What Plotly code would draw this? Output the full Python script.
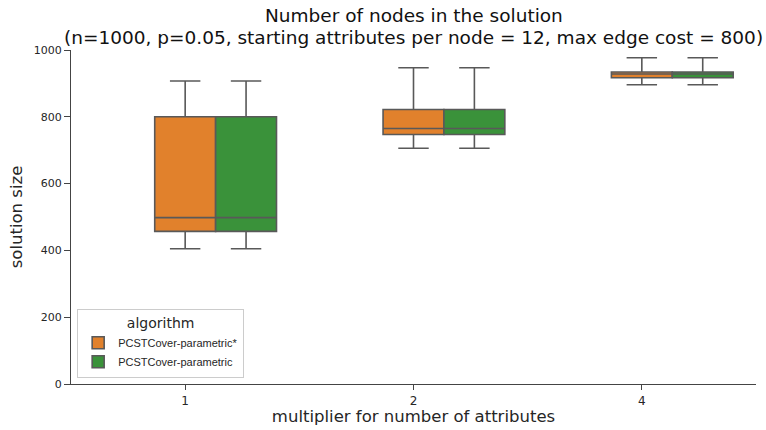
import plotly.graph_objects as go

categories = ["1", "2", "4"]
series_names = ["PCSTCover-parametric*", "PCSTCover-parametric"]
colors = ["#e1812c", "#3a923a"]

# box statistics per category (same for both algorithms)
lower = [[405, 706, 896], [405, 706, 896]]
q1 = [[457, 747, 917], [457, 747, 917]]
median = [[498, 765, 928], [498, 765, 928]]
q3 = [[800, 822, 934], [800, 822, 934]]
upper = [[907, 947, 977], [907, 947, 977]]

y_ticks = [0, 200, 400, 600, 800, 1000]
title_lines = [
    "Number of nodes in the solution",
    "(n=1000, p=0.05, starting attributes per node = 12, max edge cost = 800)",
]

box_w = 0.8 / 3
offsets = [0.0, box_w]

fig = go.Figure()
for s, name in enumerate(series_names):
    xs = [i + offsets[s] for i in range(len(categories))]
    fig.add_trace(go.Box(
        name=name,
        x=xs,
        q1=q1[s], median=median[s], q3=q3[s],
        lowerfence=lower[s], upperfence=upper[s],
        width=box_w,
        fillcolor=colors[s],
        line=dict(color="#595959", width=1.6),
        whiskerwidth=0.5,
        boxpoints=False,
        hoverinfo="skip",
    ))

font = "DejaVu Sans"
for k, (txt, yy) in enumerate(zip(title_lines, [1.103, 1.037])):
    fig.add_annotation(
        text=txt, xref="paper", yref="paper", x=0.5, y=yy,
        xanchor="center", yanchor="middle", showarrow=False,
        font=dict(size=18.5, family=font, color="#111111"),
    )

fig.update_layout(
    width=766, height=430,
    margin=dict(l=71, r=10, t=50, b=46),
    paper_bgcolor="white", plot_bgcolor="white",
    font=dict(family=font, color="#262626"),
    showlegend=True,
    legend=dict(
        title=dict(text="algorithm", font=dict(size=14, family=font), side="top center"),
        x=0.009, y=0.018, xanchor="left", yanchor="bottom",
        bordercolor="#cccccc", borderwidth=1, bgcolor="rgba(255,255,255,0.8)",
        font=dict(size=11, family="Liberation Sans"),
        tracegroupgap=4,
    ),
    xaxis=dict(
        range=[-0.5, 2.5],
        tickmode="array", tickvals=[0, 1, 2], ticktext=categories,
        showline=True, linecolor="#444444", linewidth=1.2,
        ticks="outside", ticklen=5, tickcolor="#444444",
        showgrid=False, zeroline=False,
        tickfont=dict(size=12),
        title=dict(text="multiplier for number of attributes", font=dict(size=16.5), standoff=2),
    ),
    yaxis=dict(
        range=[0, 1000],
        tickmode="array", tickvals=y_ticks,
        showline=True, linecolor="#444444", linewidth=1.2,
        ticks="outside", ticklen=6, tickcolor="#444444",
        showgrid=False, zeroline=False,
        tickfont=dict(size=11),
        title=dict(text="solution size", font=dict(size=16.5), standoff=6),
    ),
)

fig.write_html("out.html")
